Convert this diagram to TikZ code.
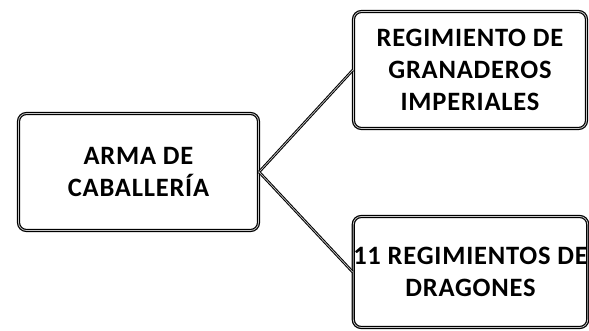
\documentclass[tikz,border=0pt]{standalone}
\usepackage{fontspec}
\setmainfont{Carlito}[LetterSpace=3]
\usetikzlibrary{positioning,calc}

\begin{document}
\begin{tikzpicture}[x=1pt, y=-1pt,
			caja/.style={rectangle, rounded corners=8pt, draw=black, line width=1.2pt, double=gray!45, double distance=0.8pt, fill=white, align=center, inner sep=0pt, font=\bfseries\fontsize{26.5}{32}\selectfont},
			enlace/.style={draw=black, line width=1pt, double=gray!45, double distance=0.7pt}]
		\useasboundingbox (0,0) rectangle (589,331);
		\path 	(138.5,172) 	node 	(arma) [caja, minimum width=240pt, minimum height=117pt] {ARMA DE\\CABALLER\'IA}
		        (470,70) node 	(granaderos) [caja, minimum width=233pt, minimum height=117pt] {REGIMIENTO DE\\GRANADEROS\\IMPERIALES}
		        (470.5,272) node  	(dragones) [caja, minimum width=232pt, minimum height=111pt] {11 REGIMIENTOS DE\\DRAGONES};
		\draw [enlace] (arma.east) -- (granaderos.west);
		\draw [enlace] (arma.east) -- (dragones.west);
	\end{tikzpicture}
\end{document}
